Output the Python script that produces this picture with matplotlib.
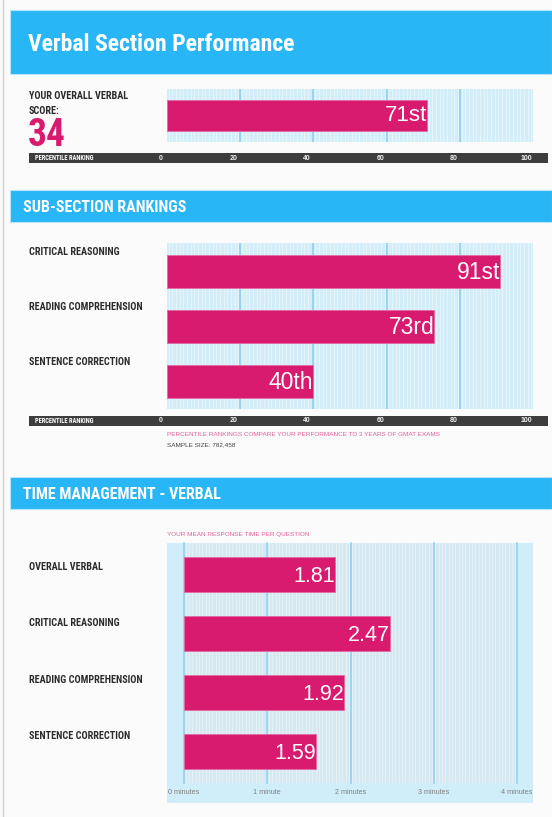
import numpy as np
import matplotlib
matplotlib.use("Agg")
import matplotlib.pyplot as plt
from matplotlib import font_manager
from matplotlib.patches import Rectangle
from matplotlib.transforms import blended_transform_factory

# ---- data ----
overall_score = 34
overall_pct = [71]
overall_pct_lbl = ["71st"]

sub_names = ["CRITICAL REASONING", "READING COMPREHENSION", "SENTENCE CORRECTION"]
sub_pct = [91, 73, 40]
sub_pct_lbl = ["91st", "73rd", "40th"]
pct_ticks = [0, 20, 40, 60, 80, 100]

time_names = ["OVERALL VERBAL", "CRITICAL REASONING", "READING COMPREHENSION",
              "SENTENCE CORRECTION"]
time_min = [1.81, 2.47, 1.92, 1.59]
time_ticks = [0, 1, 2, 3, 4]
time_tick_lbl = ["0 minutes", "1 minute", "2 minutes", "3 minutes", "4 minutes"]
sample_size = "782,458"

# ---- style ----
BLUE = "#29b6f6"
PINK = "#d81b6f"
BG = "#d3edf9"
STRIPE = "#e3f4fb"
GRID = "#8cd0f0"
STRIP = "#3d3d3d"
PAGE = "#fbfbfb"
TEXT = "#2b2b2b"

installed = {f.name for f in font_manager.fontManager.ttflist}
COND = [f for f in ["Liberation Sans Narrow", "Roboto Condensed", "Open Sans Condensed",
                    "Roboto", "DejaVu Sans"] if f in installed][0]
REG = "Liberation Sans" if "Liberation Sans" in installed else "DejaVu Sans"

W, H = 552, 817
fig = plt.figure(figsize=(W / 100, H / 100), dpi=100, facecolor=PAGE)


def rect(x0, y0, x1, y1):
    return [x0 / W, 1 - y1 / H, (x1 - x0) / W, (y1 - y0) / H]


def fx(x):
    return x / W


def fy(y):
    return 1 - y / H


def header(y0, y1, title, size, x=23, dy=1):
    fig.patches.append(Rectangle((fx(10), fy(y1)), (W - 10) / W, (y1 - y0) / H,
                                 transform=fig.transFigure, facecolor=BLUE,
                                 edgecolor="#b9e3f7", lw=0.8, zorder=1))
    fig.text(fx(x), fy((y0 + y1) / 2 + dy), title, color="white", fontsize=size,
             fontweight="bold", family=COND, va="center", ha="left", zorder=2)


def striped(ax, xmin, xmax, step, bg, stripe):
    ax.set_facecolor(bg)
    for xv in np.arange(xmin + step / 2, xmax, step):
        ax.axvline(xv, color=stripe, lw=0.8, zorder=0)
    for s in ax.spines.values():
        s.set_visible(False)
    ax.set_xticks([])
    ax.set_yticks([])


def strip(y0, y1, ax_ref):
    sax = fig.add_axes(rect(29, y0, 548, y1))
    sax.set_facecolor(STRIP)
    for s in sax.spines.values():
        s.set_visible(False)
    sax.set_xticks([])
    sax.set_yticks([])
    sax.set_ylim(0, 1)
    sax.text(0.012, 0.5, "PERCENTILE RANKING", color="white", fontsize=4.7,
             fontweight="bold", family=COND, va="center", transform=sax.transAxes)
    tr = blended_transform_factory(ax_ref.transData, sax.transAxes)
    for t in pct_ticks:
        sax.text(t - 1.7, 0.5, str(t), color="#f0f0f0", fontsize=5, fontweight="bold",
                 family=REG, va="center", ha="center", transform=tr)


# left page border
fig.add_artist(plt.Line2D([fx(2.5), fx(2.5)], [0, 1], color="#d0d0d0", lw=1,
                          transform=fig.transFigure))

# =========================== section 1 ===========================
header(10, 74, "Verbal Section Performance", 17, x=28, dy=2.5)
fig.text(fx(29), fy(96), "YOUR OVERALL VERBAL", color=TEXT, fontsize=7.3,
         fontweight="bold", family=COND, va="center")
fig.text(fx(29), fy(111), "SCORE:", color=TEXT, fontsize=7.3,
         fontweight="bold", family=COND, va="center")
fig.text(fx(27.5), fy(136), str(overall_score), color=PINK, fontsize=27,
         fontweight="bold", family=COND, va="center")

ax1 = fig.add_axes(rect(167, 89, 533, 142))
striped(ax1, 0, 100, 1, BG, STRIPE)
ax1.set_xlim(0, 100)
ax1.set_ylim(-0.5, 0.5)
for g in [20, 40, 60, 80]:
    ax1.axvline(g, color=GRID, lw=1.2, zorder=1)
ax1.barh([0], overall_pct, height=31 / 53, color=PINK, edgecolor="#e56aa3",
         lw=0.6, zorder=3)
for v, lbl in zip(overall_pct, overall_pct_lbl):
    ax1.text(v, 0, lbl, color="white", fontsize=16, family=REG, ha="right",
             va="center", zorder=4)
strip(153, 163, ax1)

# =========================== section 2 ===========================
header(190, 222, "SUB-SECTION RANKINGS", 11.5, dy=1.5)

ax2 = fig.add_axes(rect(167, 243, 533, 409))
striped(ax2, 0, 100, 1, BG, STRIPE)
ax2.set_xlim(0, 100)
ax2.set_ylim(2 + 28 / 55, -28 / 55)
for g in [20, 40, 60, 80]:
    ax2.axvline(g, color=GRID, lw=1.2, zorder=1)
ypos = np.arange(len(sub_pct))
ax2.barh(ypos, sub_pct, height=33 / 55, color=PINK, edgecolor="#e56aa3",
         lw=0.6, zorder=3)
for y, v, lbl in zip(ypos, sub_pct, sub_pct_lbl):
    ax2.text(v, y + 0.03, lbl, color="white", fontsize=16.5, family=REG, ha="right",
             va="center", zorder=4)
lt = blended_transform_factory(fig.transFigure, ax2.transData)
for y, name in zip(ypos, sub_names):
    fig.text(fx(29), y - 0.35, name, color=TEXT, fontsize=7.3, fontweight="bold",
             family=COND, va="center", transform=lt)
strip(416, 426, ax2)
fig.text(fx(167), fy(434.5), "PERCENTILE RANKINGS COMPARE YOUR PERFORMANCE TO 3 YEARS OF GMAT EXAMS",
         color="#e0609a", fontsize=4.6, family=REG, va="center")
fig.text(fx(167), fy(444.5), "SAMPLE SIZE: " + sample_size, color="#444444",
         fontsize=4.6, family=REG, va="center")

# =========================== section 3 ===========================
header(477, 509, "TIME MANAGEMENT - VERBAL", 11.5, dy=1.5)
fig.text(fx(167), fy(534.5), "YOUR MEAN RESPONSE TIME PER QUESTION", color="#e0609a",
         fontsize=4.6, family=REG, va="center")

ax3o = fig.add_axes(rect(167, 543, 533, 803))
ax3o.set_facecolor("#d0eef9")
for s in ax3o.spines.values():
    s.set_visible(False)
ax3o.set_xticks([])
ax3o.set_yticks([])

ax3 = fig.add_axes(rect(184, 543, 517, 783))
striped(ax3, 0, 4, 0.04, "#d6e9f1", "#e3f0f5")
ax3.set_xlim(0, 4)
ax3.set_ylim(3 + 31.5 / 59, -31.5 / 59)
for g in time_ticks:
    ax3.axvline(g, color=GRID, lw=1.1, zorder=1, clip_on=False)
ypos3 = np.arange(len(time_min))
ax3.barh(ypos3, time_min, height=35 / 59, color=PINK, edgecolor="#e56aa3",
         lw=0.6, zorder=3)
for y, v in zip(ypos3, time_min):
    ax3.text(v, y + 0.03, f"{v:.2f}", color="white", fontsize=15.5, family=REG,
             ha="right", va="center", zorder=4)
lt3 = blended_transform_factory(fig.transFigure, ax3.transData)
for y, name in zip(ypos3, time_names):
    fig.text(fx(29), y * 0.955 - 0.13, name, color=TEXT, fontsize=7.3, fontweight="bold",
             family=COND, va="center", transform=lt3)
tt = blended_transform_factory(ax3.transData, fig.transFigure)
for i, (t, lbl) in enumerate(zip(time_ticks, time_tick_lbl)):
    if i == 0:
        fig.text(fx(168), fy(793), lbl, color="#808080", fontsize=5.2, family=REG,
                 ha="left", va="center")
    elif i == len(time_ticks) - 1:
        fig.text(fx(532), fy(793), lbl, color="#808080", fontsize=5.2, family=REG,
                 ha="right", va="center")
    else:
        fig.text(t, fy(793), lbl, color="#808080", fontsize=5.2, family=REG,
                 ha="center", va="center", transform=tt)

fig.savefig("out.png", dpi=100, facecolor=PAGE)
